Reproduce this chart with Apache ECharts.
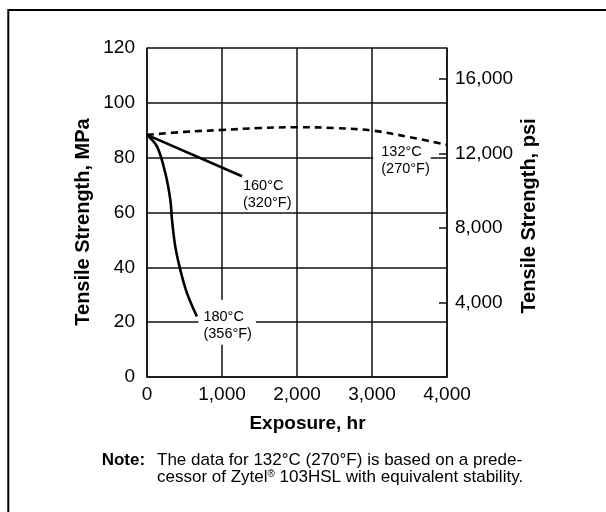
<!DOCTYPE html>
<html><head><meta charset="utf-8">
<script src="https://cdn.jsdelivr.net/npm/echarts@6/dist/echarts.min.js"></script>
<style>html,body{margin:0;padding:0;background:#fff}#c{width:606px;height:512px}</style>
</head><body><div id="c"></div>
<script>
// Exposure hours and tensile strength (MPa)
const hours132 = [0, 500, 1000, 1500, 2000, 2500, 3000, 3500, 4000];
const mpa132   = [88.3, 89.4, 90.1, 90.8, 91.1, 90.8, 89.9, 87.5, 84.7];
const hours160 = [0, 1267];
const mpa160   = [88.3, 73.2];
const hours180 = [0, 133, 244, 311, 333, 377, 444, 533, 665];
const mpa180   = [88.3, 84.1, 74.4, 64.6, 57.4, 47.6, 39.1, 30.6, 22.1];
const label132 = "132°C\n(270°F)";
const label160 = "160°C\n(320°F)";
const label180 = "180°C\n(356°F)";
const xTicks = [0, 1000, 2000, 3000, 4000];
const mpaTicks = [0, 20, 40, 60, 80, 100, 120];
const psiTicks = [4000, 8000, 12000, 16000];
const psiMax = 17660;

const FONT = '"Liberation Sans", Arial, Helvetica, sans-serif';
const INK = '#111';
const chart = echarts.init(document.getElementById('c'), null, {renderer: 'canvas'});

function makeData(xs, ys, labelText, lab) {
  return xs.map((x, i) => {
    const item = {value: [x, ys[i]]};
    if (i === xs.length - 1) {
      item.label = Object.assign({
        show: true, formatter: labelText, color: '#000', fontFamily: FONT,
        fontSize: 14.5, lineHeight: 17, align: 'left', verticalAlign: 'top'
      }, lab);
    }
    return item;
  });
}
const fmt = v => Number(v).toLocaleString('en-US');

chart.setOption({
  animation: false,
  backgroundColor: '#fff',
  grid: {left: 147, top: 48, width: 300, height: 329, containLabel: false},
  xAxis: {
    type: 'value', min: xTicks[0], max: xTicks[xTicks.length - 1], interval: 1000,
    axisLine: {show: true, lineStyle: {color: INK, width: 1.5}},
    axisTick: {show: false},
    splitLine: {show: true, lineStyle: {color: INK, width: 1.5}},
    axisLabel: {color: '#000', fontSize: 19, fontFamily: FONT, margin: 8,
      formatter: v => xTicks.includes(v) ? fmt(v) : ''}
  },
  yAxis: [{
    type: 'value', position: 'left', min: mpaTicks[0], max: mpaTicks[mpaTicks.length - 1], interval: 20,
    axisLine: {show: true, lineStyle: {color: INK, width: 1.5}},
    axisTick: {show: false},
    splitLine: {show: true, lineStyle: {color: INK, width: 1.5}},
    axisLabel: {color: '#000', fontSize: 19, fontFamily: FONT, margin: 12}
  }, {
    type: 'value', position: 'right', min: 0, max: psiMax, interval: 4000, alignTicks: false,
    axisLine: {show: true, lineStyle: {color: INK, width: 1.5}},
    axisTick: {show: true, inside: true, length: 8, lineStyle: {color: INK, width: 1.5}},
    splitLine: {show: false},
    axisLabel: {color: '#000', fontSize: 19, fontFamily: FONT, margin: 8,
      showMinLabel: false, showMaxLabel: false,
      formatter: v => psiTicks.includes(v) ? fmt(v) : ''}
  }],
  series: [{
    name: '132°C', type: 'line', yAxisIndex: 0, silent: true,
    symbol: 'circle', symbolSize: 0.1, showSymbol: true, smooth: 0.4,
    itemStyle: {color: '#000'},
    lineStyle: {color: '#000', width: 2.6, type: [7, 5]},
    data: makeData(hours132, mpa132, label132, {
      position: [-73.7, -1], padding: [0, 1, 2, 8], backgroundColor: '#fff'})
  }, {
    name: '160°C', type: 'line', yAxisIndex: 0, silent: true,
    symbol: 'circle', symbolSize: 0.1, showSymbol: true,
    itemStyle: {color: '#000'},
    lineStyle: {color: '#000', width: 2.6},
    data: makeData(hours160, mpa160, label160, {position: [1, 1]})
  }, {
    name: '180°C', type: 'line', yAxisIndex: 0, silent: true,
    symbol: 'circle', symbolSize: 0.1, showSymbol: true, smooth: 0.35,
    itemStyle: {color: '#000'},
    lineStyle: {color: '#000', width: 2.6},
    data: makeData(hours180, mpa180, label180, {
      position: [1.6, -16.7], padding: [9, 4, 2, 5], backgroundColor: '#fff'})
  }],
  graphic: [
    {type: 'rect', silent: true, shape: {x: 8.3, y: 10, width: 700, height: 600},
     style: {fill: null, stroke: '#000', lineWidth: 2}},
    {type: 'text', x: 83.5, y: 222, rotation: Math.PI / 2, silent: true,
     style: {text: 'Tensile Strength, MPa', fill: '#000', font: 'bold 20px ' + FONT,
       align: 'center', verticalAlign: 'middle', textAlign: 'center', textVerticalAlign: 'middle'}},
    {type: 'text', x: 529, y: 216, rotation: Math.PI / 2, silent: true,
     style: {text: 'Tensile Strength, psi', fill: '#000', font: 'bold 20px ' + FONT,
       align: 'center', verticalAlign: 'middle', textAlign: 'center', textVerticalAlign: 'middle'}},
    {type: 'text', x: 307.5, y: 424, silent: true,
     style: {text: 'Exposure, hr', fill: '#000', font: 'bold 19px ' + FONT,
       align: 'center', verticalAlign: 'middle', textAlign: 'center', textVerticalAlign: 'middle'}},
    {type: 'text', x: 101.7, y: 452, silent: true,
     style: {text: 'Note:', fill: '#000', font: 'bold 17px ' + FONT, lineHeight: 17,
       align: 'left', verticalAlign: 'top', textAlign: 'left', textVerticalAlign: 'top'}},
    {type: 'text', x: 157, y: 452, silent: true,
     style: {text: 'The data for 132°C (270°F) is based on a prede-\ncessor of Zytel{sup|®} 103HSL with equivalent stability.',
       fill: '#000', font: '17px ' + FONT, lineHeight: 17,
       align: 'left', verticalAlign: 'top', textAlign: 'left', textVerticalAlign: 'top',
       rich: {sup: {fontSize: 10, fontFamily: FONT, verticalAlign: 'top', lineHeight: 17, fill: '#000'}}}}
  ]
});
</script></body></html>
